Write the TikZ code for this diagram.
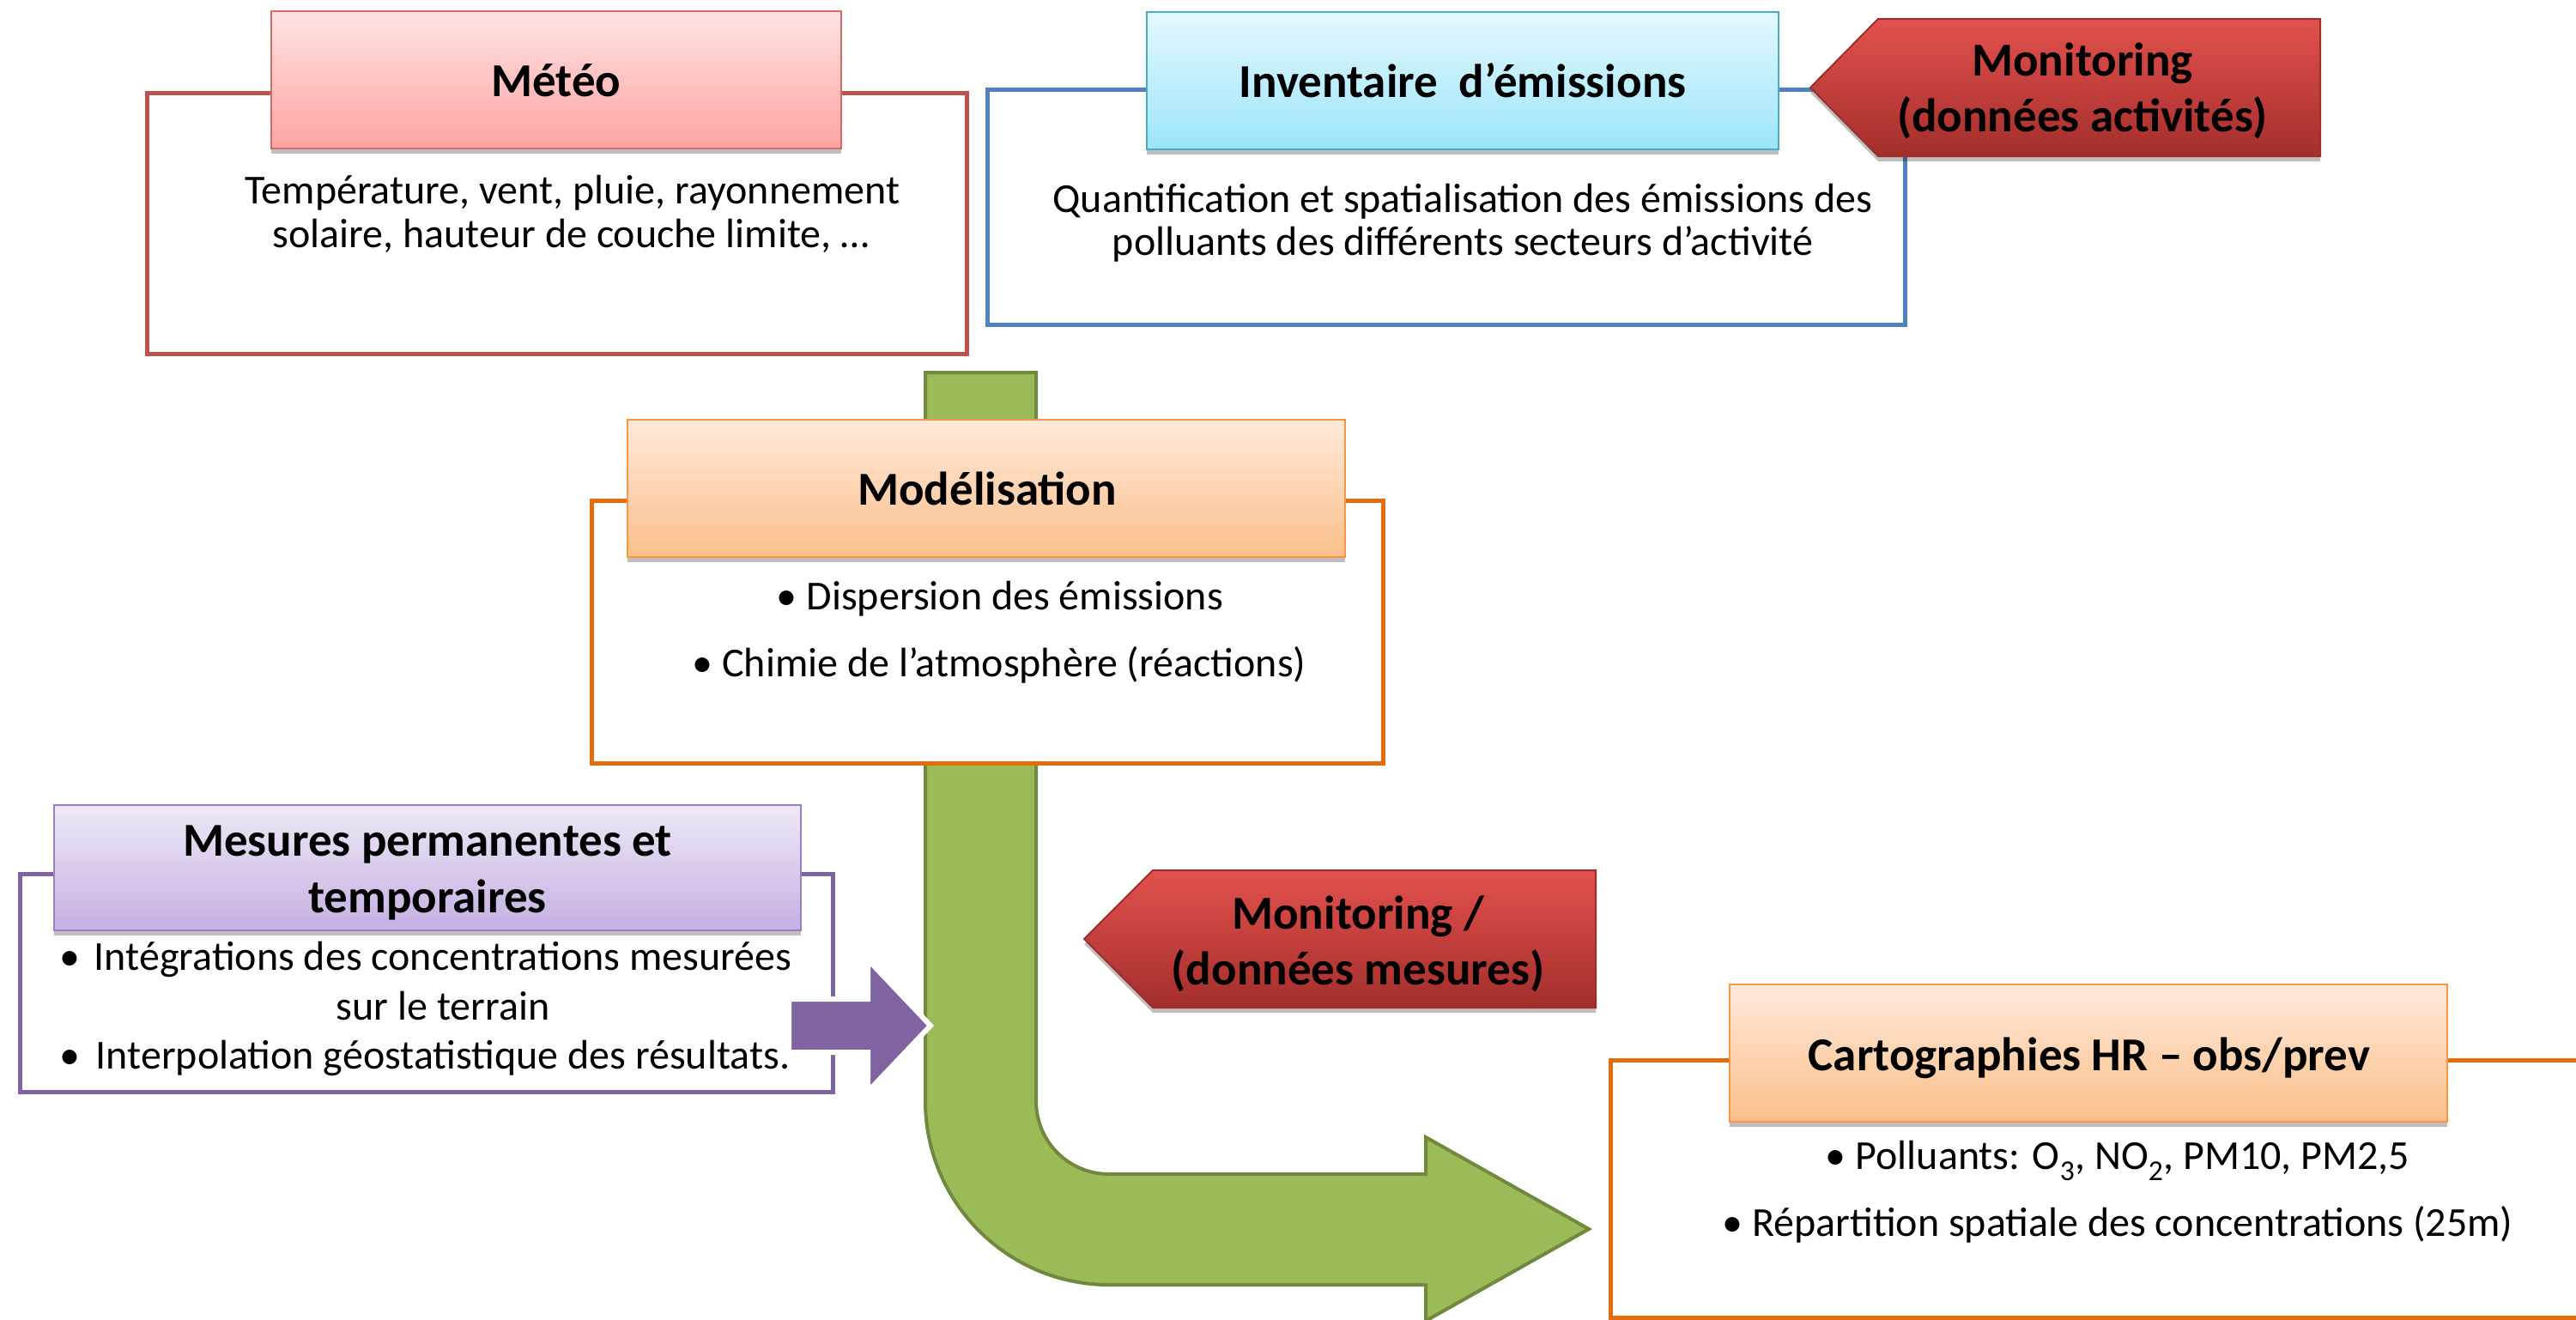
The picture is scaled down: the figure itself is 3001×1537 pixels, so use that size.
\documentclass[tikz,border=0pt]{standalone}
\usepackage{fontspec}
\setmainfont{Carlito}
\usetikzlibrary{shadows}
\definecolor{meteoC}{HTML}{C0504D}
\definecolor{meteoTop}{HTML}{FFE3E3}
\definecolor{meteoBot}{HTML}{FCA3A1}
\definecolor{meteoEdge}{HTML}{D46A67}
\definecolor{invC}{HTML}{4F81BD}
\definecolor{invTop}{HTML}{E4F8FE}
\definecolor{invBot}{HTML}{9BE5FA}
\definecolor{invEdge}{HTML}{4BACC6}
\definecolor{orgC}{HTML}{E46C0A}
\definecolor{orgTop}{HTML}{FFE9DB}
\definecolor{orgBot}{HTML}{FBBF89}
\definecolor{orgEdge}{HTML}{F79646}
\definecolor{purC}{HTML}{8064A2}
\definecolor{purTop}{HTML}{EEE8F6}
\definecolor{purBot}{HTML}{C5B0E2}
\definecolor{purEdge}{HTML}{9B7FC0}
\definecolor{redTop}{HTML}{E2514D}
\definecolor{redBot}{HTML}{A32E2B}
\definecolor{redEdge}{HTML}{9C2F2C}
\definecolor{greenF}{HTML}{9BBB59}
\definecolor{greenE}{HTML}{71893F}
\tikzset{
  outerbox/.style={draw=#1, line width=5pt, fill=white, inner sep=0pt},
  titlebox/.style n args={3}{draw=#3, line width=2pt, top color=#1, bottom color=#2, inner sep=0pt,
     drop shadow={shadow xshift=0pt, shadow yshift=-6pt, opacity=.25, fill=black}},
  redsign/.style={draw=redEdge, line width=2pt, top color=redTop, bottom color=redBot,
     drop shadow={shadow xshift=0pt, shadow yshift=-6pt, opacity=.25, fill=black}},
  ttl/.style={font=\fontsize{55pt}{66pt}\selectfont\bfseries, anchor=base, inner sep=0pt},
  bodytxt/.style={font=\fontsize{48pt}{51pt}\selectfont, anchor=base, inner sep=0pt},
}
\begin{document}
\begin{tikzpicture}[x=1pt,y=-1pt]
\clip (0,0) rectangle (3001,1537);
\fill[white] (0,0) rectangle (3001,1537);

% green bent arrow
\path[fill=greenF, draw=greenE, line width=4pt, line join=miter]
  (1078,434) -- (1207,434) -- (1207,1283)
  .. controls (1207,1330) and (1245,1368) .. (1292,1368)
  -- (1661,1368) -- (1661,1325) -- (1851,1432) -- (1661,1539) -- (1661,1497) -- (1292,1497)
  .. controls (1174,1497) and (1078,1401) .. (1078,1283) -- cycle;

% outer boxes
\node[outerbox=meteoC, minimum width=955pt, minimum height=304pt] (meteoBox) at (648.5,260) {};
\node[outerbox=invC, minimum width=1069pt, minimum height=274pt] (invBox) at (1684.5,241) {};
\node[outerbox=orgC, minimum width=922pt, minimum height=306pt] (modBox) at (1150,736) {};
\node[outerbox=purC, minimum width=947pt, minimum height=254pt] (mesBox) at (496.5,1145) {};
\node[outerbox=orgC, minimum width=1164pt, minimum height=300pt] (cartoBox) at (2458,1385) {};

% title boxes
\node[titlebox={meteoTop}{meteoBot}{meteoEdge}, minimum width=664pt, minimum height=160pt] (meteoHead) at (648,93) {};
\node[titlebox={invTop}{invBot}{invEdge}, minimum width=736pt, minimum height=160pt] (invHead) at (1704,94) {};
\node[titlebox={orgTop}{orgBot}{orgEdge}, minimum width=836pt, minimum height=160pt] (modHead) at (1149,569) {};
\node[titlebox={purTop}{purBot}{purEdge}, minimum width=870pt, minimum height=146pt] (mesHead) at (498,1011) {};
\node[titlebox={orgTop}{orgBot}{orgEdge}, minimum width=836pt, minimum height=160pt] (cartoHead) at (2433,1227) {};

% red signs
\path[redsign] (2109,102) -- (2188,22) -- (2703,22) -- (2703,182) -- (2188,182) -- cycle;
\path[redsign] (1263,1094) -- (1343,1014) -- (1859,1014) -- (1859,1174) -- (1343,1174) -- cycle;

% purple arrow
\path[fill=purC, draw=white, line width=6pt, line join=miter]
  (919,1164) -- (1011,1164) -- (1011,1118) -- (1084,1195) -- (1011,1272) -- (1011,1226) -- (919,1226) -- cycle;

% texts
\node[ttl] (meteoT) at (648,112) {Météo};
\node[bodytxt] (meteoL1) at (667,237) {Température, vent, pluie, rayonnement};
\node[bodytxt] (meteoL2) at (665,288) {solaire, hauteur de couche limite, …};

\node[ttl] (invT) at (1704,113) {Inventaire\ \ d’émissions};
\node[bodytxt] (invL1) at (1704,247) {Quantification et spatialisation des émissions des};
\node[bodytxt] (invL2) at (1704,297) {polluants des différents secteurs d’activité};

\node[ttl] (mon1a) at (2426,88) {Monitoring};
\node[ttl] (mon1b) at (2426,153) {(données activités)};

\node[ttl] (modT) at (1150,588) {Modélisation};
\node[bodytxt] (modL1) at (1165,710) {• Dispersion des émissions};
\node[bodytxt] (modL2) at (1164,788) {• Chimie de l’atmosphère (réactions)};

\node[ttl] (mon2a) at (1582,1082) {Monitoring /};
\node[ttl] (mon2b) at (1582,1147) {(données mesures)};

\node[ttl] (mesT1) at (498,997) {Mesures permanentes et};
\node[ttl] (mesT2) at (498,1063) {temporaires};
\node[bodytxt] (mesB1) at (81,1130) {•};
\node[bodytxt] (mesL1) at (516,1130) {Intégrations des concentrations mesurées};
\node[bodytxt] (mesL2) at (516,1188) {sur le terrain};
\node[bodytxt] (mesB2) at (81,1245) {•};
\node[bodytxt] (mesL3) at (516,1245) {Interpolation géostatistique des résultats.};

\node[ttl] (cartoT) at (2434,1247) {Cartographies HR – obs/prev};
\node[bodytxt] (cartoL1) at (2467,1362) {• Polluants: O\textsubscript{3}, NO\textsubscript{2}, PM10, PM2,5};
\node[bodytxt] (cartoL2) at (2467,1440) {• Répartition spatiale des concentrations (25m)};
\end{tikzpicture}
\end{document}
